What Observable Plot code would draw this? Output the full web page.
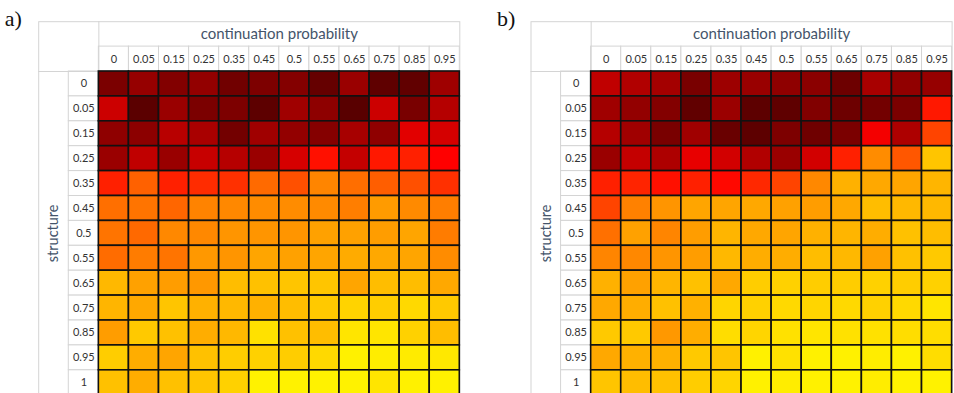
<!DOCTYPE html>
<html><head><meta charset="utf-8">
<script src="https://cdn.jsdelivr.net/npm/d3@7"></script>
<script src="https://cdn.jsdelivr.net/npm/@observablehq/plot@0.6"></script>
<style>
body{margin:0;background:#fff;}
#wrap{position:relative;width:954px;height:393px;overflow:hidden;background:#fff;}
#pa,#pb{position:absolute;top:0;}
#pa{left:0}#pb{left:477px}
</style></head><body><div id="wrap"><div id="pa"></div><div id="pb"></div></div>
<script>
const colLabels = ["0","0.05","0.15","0.25","0.35","0.45","0.5","0.55","0.65","0.75","0.85","0.95"];
const rowLabels = ["0","0.05","0.15","0.25","0.35","0.45","0.5","0.55","0.65","0.75","0.85","0.95","1"];
const xTitle = "continuation probability";
const yTitle = "structure";
const panelLabels = ["a)","b)"];

// value on a 0..100 scale (0 = darkest red, 50 = pure red, 100 = yellow)
const valuesA = [
  [11, 19, 13, 18, 8, 11.5, 13.5, 4.4, 20, 2.6, 3.2, 21.5],
  [35, 1.5, 20, 11, 11.5, 2, 22, 16.5, 1, 35, 10.3, 28],
  [17, 16, 29, 24.5, 8.5, 22, 18, 14, 24, 17, 41.5, 37.5],
  [20, 31.5, 19.7, 33.5, 28.5, 20, 38, 53.3, 32.6, 55, 56.6, 50],
  [56.6, 70, 56.6, 59, 60, 72, 66.6, 77.4, 72.8, 69.5, 66.6, 60],
  [73, 74, 71, 77, 78, 79, 79, 78.5, 76, 82, 78.5, 76],
  [74, 71.6, 78, 78, 80.7, 80.7, 80.7, 83.2, 83.2, 82.4, 84, 75.7],
  [72.4, 75.7, 74, 81.5, 80.7, 84, 83.2, 84, 85.3, 84.8, 84, 79],
  [88, 83.2, 82.4, 81.5, 89, 89.8, 90.7, 90.7, 84, 89, 89, 84.8],
  [87.3, 84.8, 90.7, 86.5, 88, 86.5, 89, 91.5, 93.6, 92.3, 94.8, 91.5],
  [82.4, 91.5, 89.8, 85.7, 88, 96.5, 89.8, 89, 97.3, 97.3, 93.2, 89],
  [92.3, 85.7, 84, 89.8, 92.3, 93.2, 92.3, 94.8, 99.8, 99, 98.5, 98],
  [89.8, 85.7, 89.8, 90.7, 93.2, 100, 100, 100, 100, 97.3, 99.8, 99.8]
];
const valuesB = [
  [31.5, 26.8, 23.2, 10.3, 20.9, 19.7, 16.8, 15.6, 6.8, 24.4, 17.4, 19],
  [22, 18, 13.2, 3.2, 20.3, 2, 2.6, 12.6, 6.8, 8.5, 10.9, 55],
  [28, 22, 10.3, 22, 5.6, 2, 11.5, 7.4, 10.9, 46.8, 25.6, 64],
  [20, 32.6, 25.6, 43.2, 36.8, 26.8, 20, 36.8, 56.6, 79, 68, 90.7],
  [56.6, 57.5, 53.3, 56.6, 51.7, 58.3, 64, 78.2, 86.5, 84.8, 84, 87.3],
  [64, 76.6, 80.7, 84, 84, 84.8, 83.2, 82.4, 84.8, 89, 88, 88],
  [73.2, 83.2, 77.4, 82.4, 87.3, 84.8, 84, 86.5, 87.3, 85.7, 89.8, 89],
  [77.4, 78.2, 80.7, 82.4, 88, 85.7, 85.7, 89, 88, 83.2, 89.8, 91.5],
  [86.5, 83.2, 87.3, 89.8, 84.8, 92.3, 93.2, 92.3, 92.3, 93.2, 92.3, 93.2],
  [84.8, 85.7, 89.8, 86.5, 94, 93.2, 94.8, 94, 94.8, 93.2, 94.8, 97.3],
  [91.5, 91.5, 81.5, 85.7, 95.6, 94, 96.5, 97.3, 96.5, 96.5, 95.6, 95.6],
  [84.8, 86.5, 86.5, 91.5, 90.7, 99.8, 96.5, 99.8, 99.8, 99, 99.8, 95.6],
  [90.7, 89, 89.8, 92.3, 94, 99.8, 99, 99.8, 100, 99, 100, 100]
];

const W = 477, H = 393;
const GRID = "#d4d4d4";

function panel(values, xRange, label) {
  const data = [];
  rowLabels.forEach((r, i) => colLabels.forEach((c, j) => data.push({row: r, col: c, value: values[i][j]})));
  const xDomain = ["__s", "__l", ...colLabels];
  const yDomain = ["__t", "__h", ...rowLabels];
  const yRange = [21.2, 394.7];
  const bw = (xRange[1] - xRange[0]) / xDomain.length;
  const bh = (yRange[1] - yRange[0]) / yDomain.length;
  return Plot.plot({
    width: W, height: H,
    marginTop: yRange[0], marginBottom: H - yRange[1],
    marginLeft: xRange[0], marginRight: W - xRange[1],
    x: {type: "band", domain: xDomain, range: xRange, padding: 0, round: false, axis: null},
    y: {type: "band", domain: yDomain, range: yRange, padding: 0, round: false, axis: null},
    color: {type: "linear", domain: [0, 50, 100], range: ["#560000", "#ff0000", "#fff200"], interpolate: "rgb"},
    style: {fontFamily: "Lato, 'Open Sans', sans-serif", background: "transparent", overflow: "visible"},
    marks: [
      Plot.frame({stroke: GRID}),
      Plot.cell(colLabels, {x: d => d, y: () => "__h", fill: "white", stroke: GRID}),
      Plot.cell(rowLabels, {x: () => "__l", y: d => d, fill: "white", stroke: GRID}),
      Plot.tickX(["__t", "__h"], {x: () => colLabels[0], y: d => d, dx: -bw / 2, stroke: GRID}),
      Plot.tickY(["__s", "__l"], {x: d => d, y: () => "__h", dy: bh / 2, stroke: GRID}),
      Plot.cell(data, {x: "col", y: "row", fill: "value", stroke: "#111", strokeWidth: 1.6}),
      Plot.text(colLabels, {x: d => d, y: () => "__h", text: d => d, fontSize: 11, fill: "#333"}),
      Plot.text(rowLabels, {x: () => "__l", y: d => d, text: d => d, fontSize: 11, fill: "#333"}),
      Plot.text([xTitle], {x: () => colLabels[5], y: () => "__t", dx: bw / 2, text: d => d, fontSize: 15, fill: "#44546a"}),
      Plot.text([yTitle], {x: () => "__s", y: () => rowLabels[6], rotate: -90, text: d => d, fontSize: 14.5, fill: "#44546a"}),
      Plot.text([label], {frameAnchor: "top-left", dx: -34, dy: -2.5, textAnchor: "start", lineAnchor: "middle", text: d => d, fontFamily: "'Liberation Serif', serif", fontSize: 22, fill: "#111"})
    ]
  });
}

document.getElementById("pa").append(panel(valuesA, [38.2, 459.3], panelLabels[0]));
document.getElementById("pb").append(panel(valuesB, [53.5, 474.6], panelLabels[1]));
</script>
</body></html>
